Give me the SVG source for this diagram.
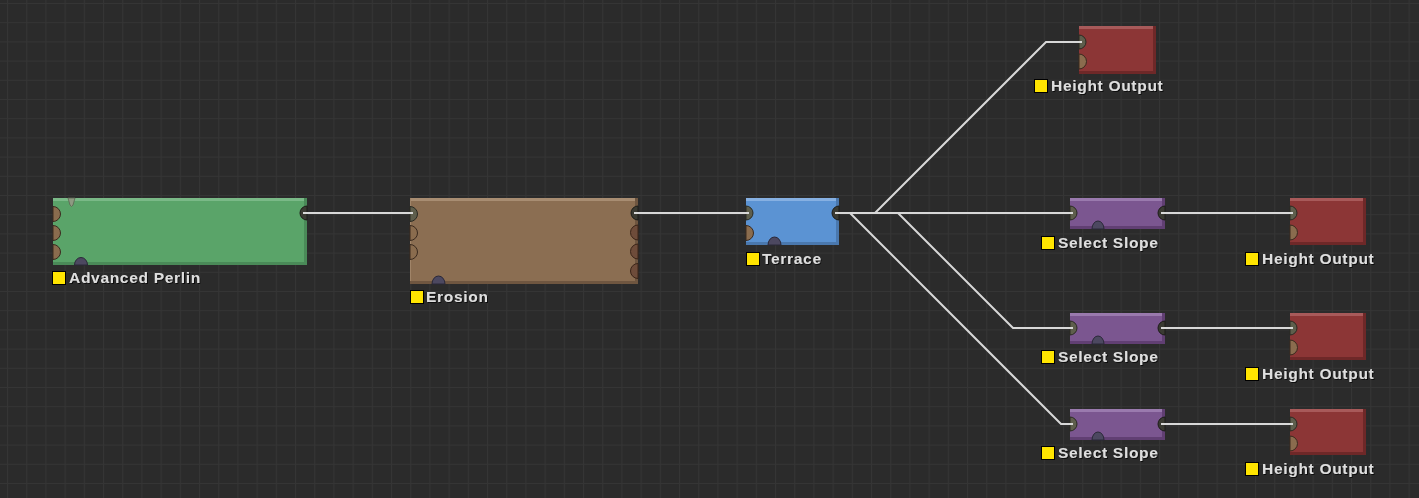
<svg xmlns="http://www.w3.org/2000/svg" width="1419" height="498" viewBox="0 0 1419 498">
<defs>
<pattern id="grid" patternUnits="userSpaceOnUse" x="7" y="3" width="19.2" height="19.2">
<path d="M0.5,0 V19.2 M0,0.5 H19.2" stroke="#353535" stroke-width="1" fill="none"/>
</pattern>
<filter id="tshadow" x="-5%" y="-20%" width="110%" height="140%">
<feDropShadow dx="1" dy="1" stdDeviation="0.4" flood-color="#000" flood-opacity="0.7"/>
</filter>
<style>
.lbl{font-family:"Liberation Sans",Arial,sans-serif;font-weight:bold;font-size:15.5px;letter-spacing:0.7px;fill:#dedede;filter:url(#tshadow)}
.ybox{fill:#ffe400;stroke:#000;stroke-width:1}
.pin-d{fill:#5e5e4c;stroke:#2a2a22;stroke-width:1}
.pin-b{fill:#8a6c4e;stroke:#3a2a1e;stroke-width:1}
.pout-d{fill:#3a3a32;stroke:#1c1c18;stroke-width:1}
.pout-b{fill:#6e4c3a;stroke:#3a2418;stroke-width:1}
.pbot{fill:#4c4860;stroke:#2a2838;stroke-width:1}
.conn{fill:none;stroke:#d8d8d8;stroke-width:2}
</style>
</defs>
<rect width="1419" height="498" fill="#2b2b2b"/>
<rect width="1419" height="498" fill="url(#grid)"/>

<g id="node-advanced-perlin">
<rect x="53" y="198" width="254" height="67" fill="#5aa469"/>
<rect x="53" y="198" width="254" height="3" fill="#7ab987"/>
<rect x="304" y="198" width="3" height="67" fill="#4a8a58"/>
<rect x="53" y="262" width="254" height="3" fill="#4a8a58"/>
<path class="pin-b" d="M53,206.5 A7.5,7.5 0 0 1 53,221.5 Z"/>
<path class="pin-b" d="M53,225.5 A7.5,7.5 0 0 1 53,240.5 Z"/>
<path class="pin-b" d="M53,244.5 A7.5,7.5 0 0 1 53,259.5 Z"/>
<path d="M68,198 H75 L73,205 Q71.5,208 70,205 Z" fill="#8e9a82" stroke="#5a6450" stroke-width="0.8"/>
<path class="pout-d" d="M307,206 A7,7 0 0 0 307,220 Z"/>
<path class="pbot" d="M74.5,265 A6.5,7.5 0 0 1 87.5,265 Z"/>
<rect class="ybox" x="52.5" y="271.5" width="13" height="13"/>
<text class="lbl" x="69" y="283">Advanced Perlin</text>
</g>

<g id="node-erosion">
<rect x="410" y="198" width="228" height="86" fill="#8b6e52"/>
<rect x="410" y="198" width="228" height="3" fill="#a88d72"/>
<rect x="410" y="198" width="1" height="86" fill="#a08468"/>
<rect x="635" y="198" width="3" height="86" fill="#6f5640"/>
<rect x="410" y="281" width="228" height="3" fill="#6f5640"/>
<path class="pin-d" d="M410,206.5 A7.5,7.5 0 0 1 410,221.5 Z"/>
<path class="pin-b" d="M410,225.5 A7.5,7.5 0 0 1 410,240.5 Z"/>
<path class="pin-b" d="M410,244.5 A7.5,7.5 0 0 1 410,259.5 Z"/>
<path class="pout-d" d="M638,206 A7,7 0 0 0 638,220 Z"/>
<path class="pout-b" d="M638,225 A7.5,7.5 0 0 0 638,240 Z"/>
<path class="pout-b" d="M638,244 A7.5,7.5 0 0 0 638,259 Z"/>
<path class="pout-b" d="M638,263.5 A7.5,7.5 0 0 0 638,278.5 Z"/>
<path class="pbot" d="M432,284 A6.5,8 0 0 1 445,284 Z"/>
<rect class="ybox" x="410.5" y="290.5" width="13" height="13"/>
<text class="lbl" x="426" y="302">Erosion</text>
</g>

<g id="node-terrace">
<rect x="746" y="198" width="93" height="47" fill="#5b93d3"/>
<rect x="746" y="198" width="93" height="3" fill="#86b0e2"/>
<rect x="836" y="198" width="3" height="47" fill="#4a78ae"/>
<rect x="746" y="242" width="93" height="3" fill="#4a78ae"/>
<path class="pin-d" d="M746,206 A7,7 0 0 1 746,220 Z"/>
<path class="pin-b" d="M746,225.5 A7.5,7.5 0 0 1 746,240.5 Z"/>
<path class="pout-d" d="M839,206 A7,7 0 0 0 839,220 Z"/>
<path class="pbot" d="M768,245 A6.5,8 0 0 1 781,245 Z"/>
<rect class="ybox" x="746.5" y="252.5" width="13" height="13"/>
<text class="lbl" x="762" y="264">Terrace</text>
</g>

<g id="node-height-output-1">
<rect x="1079" y="26" width="77" height="48" fill="#8c3636"/>
<rect x="1079" y="26" width="77" height="3" fill="#a85a5a"/>
<rect x="1153" y="26" width="3" height="48" fill="#6e2828"/>
<rect x="1079" y="71" width="77" height="3" fill="#6e2828"/>
<path class="pin-d" d="M1079,35 A7,7 0 0 1 1079,49 Z"/>
<path class="pin-b" d="M1079,54 A7.5,7.5 0 0 1 1079,69 Z"/>
<rect class="ybox" x="1034.5" y="79.5" width="13" height="13"/>
<text class="lbl" x="1051" y="91">Height Output</text>
</g>

<g id="node-select-slope-1">
<rect x="1070" y="198" width="95" height="31" fill="#7b5690"/>
<rect x="1070" y="198" width="95" height="3" fill="#9a7aae"/>
<rect x="1162" y="198" width="3" height="31" fill="#613f73"/>
<rect x="1070" y="226" width="95" height="3" fill="#613f73"/>
<path class="pin-d" d="M1070,206 A7,7 0 0 1 1070,220 Z"/>
<path class="pout-d" d="M1165,206 A7,7 0 0 0 1165,220 Z"/>
<path class="pbot" d="M1092,229 A6,8 0 0 1 1104,229 Z"/>
<rect class="ybox" x="1041.5" y="236.5" width="13" height="13"/>
<text class="lbl" x="1058" y="248">Select Slope</text>
</g>

<g id="node-height-output-2">
<rect x="1290" y="198" width="76" height="47" fill="#8c3636"/>
<rect x="1290" y="198" width="76" height="3" fill="#a85a5a"/>
<rect x="1363" y="198" width="3" height="47" fill="#6e2828"/>
<rect x="1290" y="242" width="76" height="3" fill="#6e2828"/>
<path class="pin-d" d="M1290,206 A7,7 0 0 1 1290,220 Z"/>
<path class="pin-b" d="M1290,225 A7.5,7.5 0 0 1 1290,240 Z"/>
<rect class="ybox" x="1245.5" y="252.5" width="13" height="13"/>
<text class="lbl" x="1262" y="264">Height Output</text>
</g>

<g id="node-select-slope-2">
<rect x="1070" y="313" width="95" height="31" fill="#7b5690"/>
<rect x="1070" y="313" width="95" height="3" fill="#9a7aae"/>
<rect x="1162" y="313" width="3" height="31" fill="#613f73"/>
<rect x="1070" y="341" width="95" height="3" fill="#613f73"/>
<path class="pin-d" d="M1070,321 A7,7 0 0 1 1070,335 Z"/>
<path class="pout-d" d="M1165,321 A7,7 0 0 0 1165,335 Z"/>
<path class="pbot" d="M1092,344 A6,8 0 0 1 1104,344 Z"/>
<rect class="ybox" x="1041.5" y="350.5" width="13" height="13"/>
<text class="lbl" x="1058" y="362">Select Slope</text>
</g>

<g id="node-height-output-3">
<rect x="1290" y="313" width="76" height="47" fill="#8c3636"/>
<rect x="1290" y="313" width="76" height="3" fill="#a85a5a"/>
<rect x="1363" y="313" width="3" height="47" fill="#6e2828"/>
<rect x="1290" y="357" width="76" height="3" fill="#6e2828"/>
<path class="pin-d" d="M1290,321 A7,7 0 0 1 1290,335 Z"/>
<path class="pin-b" d="M1290,340 A7.5,7.5 0 0 1 1290,355 Z"/>
<rect class="ybox" x="1245.5" y="367.5" width="13" height="13"/>
<text class="lbl" x="1262" y="379">Height Output</text>
</g>

<g id="node-select-slope-3">
<rect x="1070" y="409" width="95" height="31" fill="#7b5690"/>
<rect x="1070" y="409" width="95" height="3" fill="#9a7aae"/>
<rect x="1162" y="409" width="3" height="31" fill="#613f73"/>
<rect x="1070" y="437" width="95" height="3" fill="#613f73"/>
<path class="pin-d" d="M1070,417 A7,7 0 0 1 1070,431 Z"/>
<path class="pout-d" d="M1165,417 A7,7 0 0 0 1165,431 Z"/>
<path class="pbot" d="M1092,440 A6,8 0 0 1 1104,440 Z"/>
<rect class="ybox" x="1041.5" y="446.5" width="13" height="13"/>
<text class="lbl" x="1058" y="458">Select Slope</text>
</g>

<g id="node-height-output-4">
<rect x="1290" y="409" width="76" height="46" fill="#8c3636"/>
<rect x="1290" y="409" width="76" height="3" fill="#a85a5a"/>
<rect x="1363" y="409" width="3" height="46" fill="#6e2828"/>
<rect x="1290" y="452" width="76" height="3" fill="#6e2828"/>
<path class="pin-d" d="M1290,417 A7,7 0 0 1 1290,431 Z"/>
<path class="pin-b" d="M1290,436 A7.5,7.5 0 0 1 1290,451 Z"/>
<rect class="ybox" x="1245.5" y="462.5" width="13" height="13"/>
<text class="lbl" x="1262" y="474">Height Output</text>
</g>

<g id="connectors">
<path class="conn" d="M303,213 H413"/>
<path class="conn" d="M634,213 H749"/>
<path class="conn" d="M835,213 H875 L1046,42 H1082"/>
<path class="conn" d="M835,213 H1073"/>
<path class="conn" d="M835,213 H898 L1013,328 H1073"/>
<path class="conn" d="M835,213 H850 L1061,424 H1073"/>
<path class="conn" d="M1161,213 H1293"/>
<path class="conn" d="M1161,328 H1293"/>
<path class="conn" d="M1161,424 H1293"/>
</g>
</svg>
